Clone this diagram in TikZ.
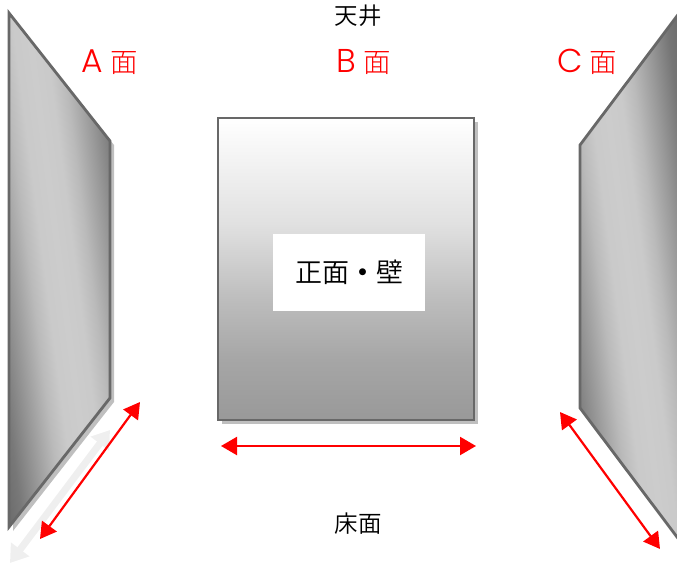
\documentclass[tikz,border=0pt]{standalone}
\usepackage{fontspec}
\setmainfont{Noto Sans CJK JP DemiLight}
\newfontfamily\cjklight{Noto Sans CJK JP Light}
\newfontfamily\cjkheavy{Noto Sans CJK JP Bold}
\newfontfamily\latinthin{Poppins Light}
\usetikzlibrary{arrows.meta}
\pgfdeclarehorizontalshading{wallshade}{100bp}{
  rgb(0bp)=(.36,.36,.36);
  rgb(25bp)=(.38,.38,.38);
  rgb(27.5bp)=(.40,.40,.40);
  rgb(32.5bp)=(.47,.47,.47);
  rgb(37.5bp)=(.60,.60,.60);
  rgb(42.5bp)=(.73,.73,.73);
  rgb(46bp)=(.79,.79,.79);
  rgb(50bp)=(.80,.80,.80);
  rgb(54bp)=(.79,.79,.79);
  rgb(57.5bp)=(.73,.73,.73);
  rgb(62.5bp)=(.60,.60,.60);
  rgb(67.5bp)=(.46,.46,.46);
  rgb(72.5bp)=(.40,.40,.40);
  rgb(75bp)=(.38,.38,.38);
  rgb(100bp)=(.36,.36,.36)}
\pgfdeclareverticalshading{frontshade}{100bp}{
  rgb(0bp)=(.60,.60,.60);
  rgb(25bp)=(.60,.60,.60);
  rgb(34.9bp)=(.65,.65,.65);
  rgb(44.9bp)=(.74,.74,.74);
  rgb(57.3bp)=(.88,.88,.88);
  rgb(75bp)=(1,1,1);
  rgb(100bp)=(1,1,1)}
\definecolor{edgegray}{HTML}{686868}
\definecolor{shadowgray}{HTML}{BFBFBF}
\definecolor{ghostgray}{HTML}{EFEFEF}
\tikzset{
  x=1pt,y=-1pt,
  wallline/.style={draw=edgegray,line width=2.8pt,line join=miter},
  wallshadow/.style={fill=shadowgray},
  redarrow/.style={draw=red,line width=2.2pt,{Triangle[length=16pt,width=18pt]}-{Triangle[length=16pt,width=18pt]}},
  ghostarrow/.style={draw=ghostgray,line width=7pt,{Triangle[length=17pt,width=22pt]}-{Triangle[length=17pt,width=22pt]}},
  redlabel/.style={text=red,font=\cjklight\fontsize{27.5}{27}\selectfont,inner sep=0pt},
  blacklabel/.style={text=black,font=\fontsize{23.5}{24}\selectfont,inner sep=0pt},
}
\newcommand{\facelabel}[1]{{\latinthin\fontsize{33}{27}\selectfont #1}\hspace{7pt}面}
\begin{document}
\begin{tikzpicture}
\useasboundingbox (0,0) rectangle (677,564);
% left wall
\fill[wallshadow] (13,17) -- (114,145) -- (114,402) -- (13,531) -- cycle;
\begin{scope}
  \clip (9,13) -- (110,141) -- (110,398) -- (9,527) -- cycle;
  \begin{scope}[transform canvas={rotate around={7.4:(60,270)}}]
    \shade[shading=wallshade] (-40,-130) rectangle (160,670);
  \end{scope}
\end{scope}
\draw[wallline] (9,13) -- (110,141) -- (110,398) -- (9,527) -- cycle;
% right wall
\begin{scope}
  \clip (580,145) -- (677,16) -- (677,537) -- (580,408) -- cycle;
  \begin{scope}[transform canvas={rotate around={7.4:(632,300)}}]
    \shade[shading=wallshade] (532,-100) rectangle (732,700);
  \end{scope}
\end{scope}
\draw[wallline] (680,12) -- (580,145) -- (580,408) -- (680,541);
% front wall
\fill[shadowgray] (222,122) rectangle (478,424);
\shade[shading=frontshade] (218,118) rectangle (474,420);
\draw[wallline] (218,118) rectangle (474,420);
\node[fill=white,minimum width=152pt,minimum height=77pt,inner sep=0pt,font=\fontsize{27}{27}\selectfont] (front) at (349,272.5) {\raisebox{2.5pt}{正面{\cjkheavy ・}壁}};
% labels
\node[blacklabel] (ceil) at (358,15.5) {天井};
\node[blacklabel] (floor) at (358,523.5) {床面};
\node[redlabel] (la) at (110,62) {\facelabel{A}};
\node[redlabel] (lb) at (363.5,62) {\facelabel{B}};
\node[redlabel] (lc) at (587,62) {\facelabel{C}};
% arrows
\coordinate (ga) at (110,430);
\coordinate (gb) at (10,563);
\draw[ghostarrow] (ga) -- (gb);
\coordinate (a1) at (40,539);
\coordinate (a2) at (140,402);
\draw[redarrow] (a1) -- (a2);
\coordinate (b1) at (221,446);
\coordinate (b2) at (476,446);
\draw[redarrow] (b1) -- (b2);
\coordinate (c1) at (560,412);
\coordinate (c2) at (660,549);
\draw[redarrow] (c1) -- (c2);
\end{tikzpicture}
\end{document}
